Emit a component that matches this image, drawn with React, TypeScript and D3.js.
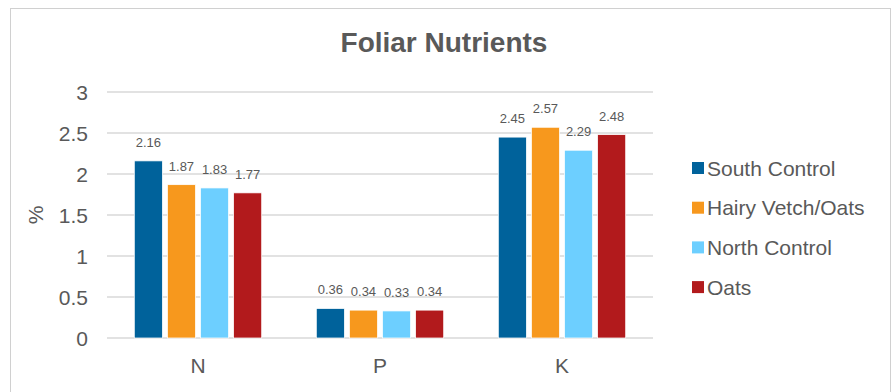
import React from "react";
import * as d3 from "d3";

const categories = ["N", "P", "K"];
const seriesNames = ["South Control", "Hairy Vetch/Oats", "North Control", "Oats"];
const southControl = [2.16, 0.36, 2.45];
const hairyVetchOats = [1.87, 0.34, 2.57];
const northControl = [1.83, 0.33, 2.29];
const oats = [1.77, 0.34, 2.48];
const yTicks = [0, 0.5, 1, 1.5, 2, 2.5, 3];
const colors = ["#00629B", "#F7981D", "#6DCFFF", "#B21A1C"];

const allSeries = [southControl, hairyVetchOats, northControl, oats];

export default function App() {
  const W = 893, H = 392;
  const plotL = 107, plotR = 653, plotT = 92, plotB = 338;
  const x0 = d3.scaleBand().domain(categories).range([plotL, plotR]).paddingInner(0).paddingOuter(0);
  const groupW = x0.bandwidth() * 0.7;
  const x1 = d3.scaleBand().domain(seriesNames).range([0, groupW]).paddingInner(0.15).paddingOuter(0);
  const y = d3.scaleLinear().domain([0, 3]).range([plotB, plotT]);
  const textColor = "#595959";
  const font = "Arial, 'Liberation Sans', sans-serif";

  return (
    <svg width={W} height={H} style={{ position: "absolute", left: 0, top: 0 }} fontFamily={font}>
      <rect x={0} y={0} width={W} height={H} fill="#fff" />
      <rect x={10.5} y={8.5} width={880} height={400} fill="#fff" stroke="#d0d0d0" strokeWidth={1} />
      <text x={444} y={52} textAnchor="middle" fontSize={28} fontWeight="bold" fill={textColor}>
        Foliar Nutrients
      </text>
      {yTicks.map((t) => (
        <g key={t}>
          <line x1={plotL} x2={plotR} y1={y(t)} y2={y(t)} stroke="#d9d9d9" strokeWidth={1.5} />
          <text x={88} y={y(t) + 7.5} textAnchor="end" fontSize={21} fill={textColor}>
            {t}
          </text>
        </g>
      ))}
      <text transform={`translate(43,215) rotate(-90)`} textAnchor="middle" fontSize={21} fill={textColor}>
        %
      </text>
      {categories.map((c, ci) => {
        const gx = (x0(c) as number) + (x0.bandwidth() - groupW) / 2;
        return (
          <g key={c}>
            {allSeries.map((s, si) => {
              const bx = gx + (x1(seriesNames[si]) as number);
              const v = s[ci];
              return (
                <g key={si}>
                  <rect x={bx} y={y(v)} width={x1.bandwidth()} height={plotB - y(v)} fill={colors[si]} stroke="#fff" strokeWidth={0.75} />
                  <text x={bx + x1.bandwidth() / 2} y={y(v) - 14} textAnchor="middle" fontSize={13} fill={textColor}>
                    {v.toFixed(2)}
                  </text>
                </g>
              );
            })}
            <text x={(x0(c) as number) + x0.bandwidth() / 2} y={373} textAnchor="middle" fontSize={21} fill={textColor}>
              {c}
            </text>
          </g>
        );
      })}
      {seriesNames.map((n, i) => (
        <g key={n} transform={`translate(692,${168 + i * 39.7})`}>
          <rect x={0} y={-6} width={12} height={12} fill={colors[i]} />
          <text x={15} y={7.5} fontSize={21} fill={textColor}>
            {n}
          </text>
        </g>
      ))}
    </svg>
  );
}
